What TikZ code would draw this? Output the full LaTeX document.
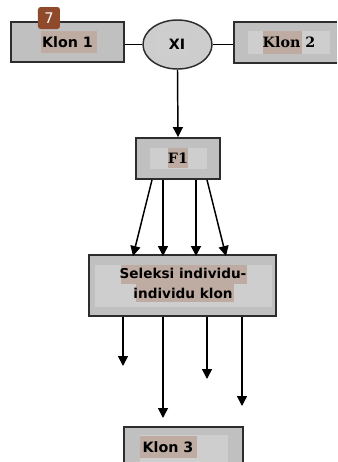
\documentclass[tikz,border=0pt]{standalone}
\usepackage{fontspec}
\setmainfont{DejaVu Sans}
\newfontfamily\dvserif{DejaVu Serif}
\usetikzlibrary{arrows.meta,shapes.geometric}
\definecolor{boxfill}{RGB}{192,192,192}
\definecolor{innerfill}{RGB}{206,206,206}
\definecolor{hilite}{RGB}{190,172,162}
\definecolor{edge}{RGB}{45,45,45}
\definecolor{badge}{RGB}{142,74,42}
\tikzset{
  box/.style={draw=edge, line width=1.4pt, fill=boxfill, rectangle, inner sep=0pt},
  oval/.style={draw=edge, line width=1.1pt, fill=boxfill!80!white, ellipse, inner sep=0pt},
  lbl/.style={font=\bfseries\fontsize{10.7}{12}\selectfont, inner sep=0pt, text=black},
  slbl/.style={font=\dvserif\bfseries\fontsize{10.7}{12}\selectfont, inner sep=0pt, text=black},
  conn/.style={line width=1.1pt, black},
  arr/.style={conn, -{Triangle[width=7.5pt,length=7.5pt]}},
}
\begin{document}
\begin{tikzpicture}[x=0.75pt,y=-0.75pt]
\clip (0,0) rectangle (337,462);
\fill[white] (0,0) rectangle (337,462);
% boxes
\node[box, minimum width=84.75pt, minimum height=30pt] (k1) at (67.5,42) {};
\node[oval, minimum width=51.75pt, minimum height=36.75pt] (xi) at (177.5,44.5) {};
\node[box, minimum width=90pt, minimum height=30.75pt] (k2) at (294,42.5) {};
\node[box, minimum width=63pt, minimum height=30.75pt] (f1) at (178,158.5) {};
\node[box, minimum width=140.25pt, minimum height=45.75pt] (sel) at (182.5,285.5) {};
\node[box, minimum width=89.25pt, minimum height=34.5pt] (k3) at (183.5,450) {};
% inner light panels and text highlights
\fill[innerfill] (155,33) rectangle (188,57);
\fill[innerfill] (248,31) rectangle (330,54);
\fill[innerfill] (150,148) rectangle (207,169);
\fill[innerfill] (95,265) rectangle (272,307);
\fill[innerfill] (140,435) rectangle (228,462);
\fill[hilite] (41,31) rectangle (97,53);
\fill[hilite] (263,31) rectangle (302,54);
\fill[hilite] (168,148) rectangle (188,168);
\fill[hilite] (121,265) rectangle (247,284);
\fill[hilite] (136,284) rectangle (234,302);
\fill[hilite] (140,436) rectangle (197,458);
% texts
\node[lbl] (t1) at (k1.center) {Klon 1};
\node[lbl] (txi) at (177,44.5) {XI};
\node[slbl] (t2) at (289,42.5) {Klon 2};
\node[slbl] (tf1) at (178,158.5) {F1};
\node[lbl, font=\bfseries\fontsize{10.2}{14.5}\selectfont, align=center] (tsel) at (183,283.5) {Seleksi individu-\\individu klon};
\node[lbl] (t3) at (168,447) {Klon 3};
% badge
\node[fill=badge, rounded corners=2pt, minimum width=16.5pt, minimum height=16.5pt, inner sep=0pt, text=white, font=\fontsize{11}{12}\selectfont] (b7) at (49,18) {7};
% connectors
\draw[conn] (k1.east |- xi.west) -- (xi.west);
\draw[conn] (xi.east) -- (k2.west |- xi.east);
\draw[arr] (xi.south) -- (f1.north);
\coordinate (a1) at (133,256);
\coordinate (a2) at (163,256);
\coordinate (a3) at (196,256);
\coordinate (a4) at (226,256);
\draw[arr] (f1.south -| 152,0) -- (a1);
\draw[arr] (f1.south -| 163,0) -- (a2);
\draw[arr] (f1.south -| 196,0) -- (a3);
\draw[arr] (f1.south -| 207,0) -- (a4);
\coordinate (b1) at (123,366);
\coordinate (b2) at (163,418);
\coordinate (b3) at (207,379);
\coordinate (b4) at (242,406);
\draw[arr] (sel.south -| b1) -- (b1);
\draw[arr] (sel.south -| b2) -- (b2);
\draw[arr] (sel.south -| b3) -- (b3);
\draw[arr] (sel.south -| b4) -- (b4);
\end{tikzpicture}
\end{document}
